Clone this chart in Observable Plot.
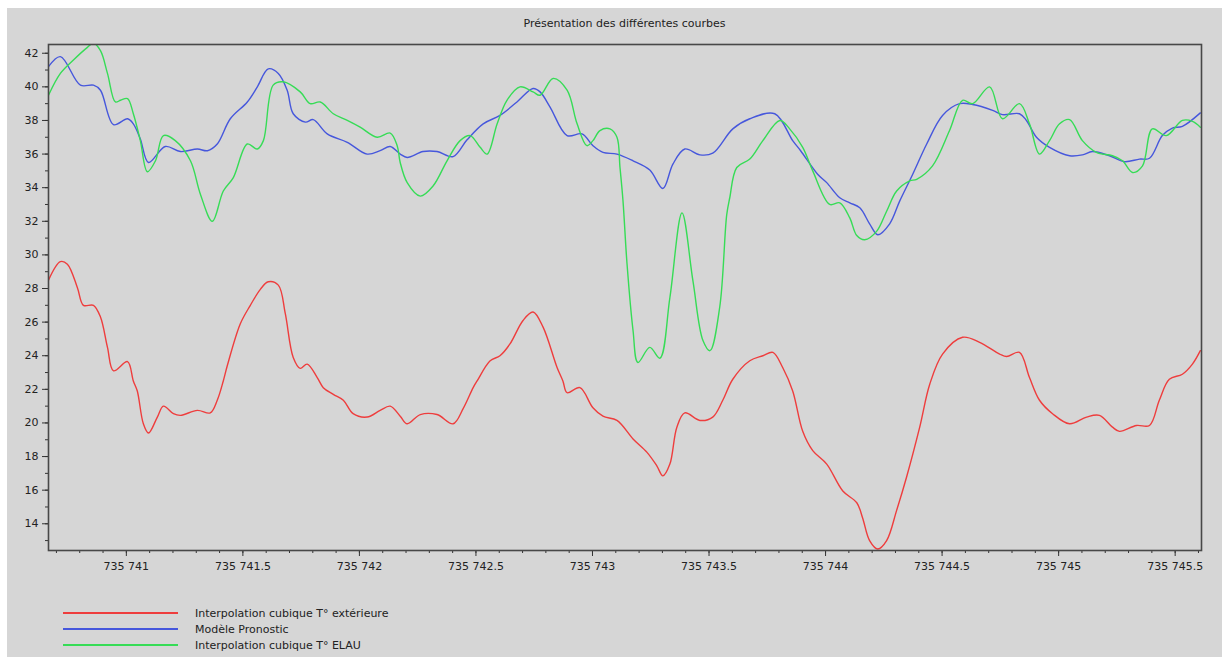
<!DOCTYPE html>
<html>
<head>
<meta charset="utf-8">
<script src="https://cdn.jsdelivr.net/npm/d3@7"></script>
<script src="https://cdn.jsdelivr.net/npm/@observablehq/plot@0.6"></script>
<style>
  html, body { margin: 0; padding: 0; background: #ffffff; }
  #panel { position: absolute; left: 7px; top: 8px; width: 1215px; height: 649px; background: #d6d6d6; overflow: hidden; font-family: "DejaVu Sans", sans-serif; }
  #title { position: absolute; left: 41px; width: 1153px; top: 9px; text-align: center; font-size: 11px; color: #222; }
  #chart { position: absolute; left: 0; top: 30px; }
  #legend { position: absolute; left: 56px; top: 598px; font-size: 11px; color: #222; }
  .row { position: relative; height: 16px; }
  .row .sw { position: absolute; left: 0; top: 6px; width: 115px; height: 2px; }
  .row .lb { position: absolute; left: 132px; top: 0px; line-height: 15px; white-space: nowrap; }
</style>
</head>
<body>
<div id="panel">
  <div id="title"></div>
  <div id="chart"></div>
  <div id="legend"></div>
</div>
<script>
// ---- data (x = date serial, y = temperature) ----
const title = "Présentation des différentes courbes";
const seriesNames = ["Interpolation cubique T° extérieure", "Modèle Pronostic", "Interpolation cubique T° ELAU"];
const seriesColors = ["#ee3d3d", "#4657dc", "#36dc56"];

const redX = [735740.666,735740.717,735740.747,735740.790,735740.816,735740.859,735740.889,735740.919,735740.945,735741.005,735741.030,735741.047,735741.073,735741.095,735741.133,735741.159,735741.202,735741.232,735741.305,735741.360,735741.390,735741.416,735741.433,735741.489,735741.532,735741.575,735741.609,735741.652,735741.682,735741.716,735741.746,735741.776,735741.819,735741.845,735741.888,735741.931,735741.973,735742.033,735742.089,735742.132,735742.175,735742.205,735742.261,735742.333,735742.402,735742.445,735742.488,735742.505,735742.561,735742.603,735742.646,735742.702,735742.745,735742.788,735742.848,735742.873,735742.891,735742.946,735743.002,735743.045,735743.105,735743.174,735743.234,735743.276,735743.302,735743.332,735743.362,735743.396,735743.461,735743.516,735743.559,735743.602,735743.675,735743.731,735743.774,735743.816,735743.859,735743.902,735743.945,735744.005,735744.074,735744.134,735744.159,735744.189,735744.224,735744.262,735744.305,735744.348,735744.404,735744.447,735744.502,735744.588,735744.661,735744.747,735744.777,735744.832,735744.875,735744.918,735744.974,735745.047,735745.120,735745.175,735745.231,735745.261,735745.334,735745.390,735745.432,735745.475,735745.531,735745.574,735745.608];
const redT = [28.5,29.6,29.45,28.05,27.0,27.0,26.3,24.5,23.1,23.65,22.5,21.9,19.95,19.4,20.35,21.0,20.55,20.45,20.75,20.6,21.35,22.5,23.4,25.9,27.0,27.95,28.4,28.2,26.5,23.9,23.25,23.5,22.7,22.1,21.7,21.35,20.55,20.35,20.75,21.0,20.4,19.95,20.5,20.5,19.95,20.85,22.1,22.5,23.7,24.0,24.7,26.1,26.6,25.7,23.3,22.5,21.8,22.1,20.9,20.4,20.15,19.05,18.25,17.45,16.85,17.55,19.75,20.6,20.15,20.35,21.35,22.6,23.7,24.0,24.2,23.3,21.9,19.5,18.35,17.55,15.95,15.25,14.35,13.0,12.5,13.0,14.8,16.8,19.75,22.3,24.1,25.1,24.8,24.1,23.95,24.2,22.7,21.35,20.55,19.95,20.35,20.45,19.75,19.5,19.85,19.85,21.35,22.6,22.9,23.5,24.3];

const blueX = [735740.666,735740.717,735740.803,735740.859,735740.889,735740.945,735741.005,735741.030,735741.060,735741.095,735741.167,735741.232,735741.305,735741.348,735741.390,735741.446,735741.519,735741.562,735741.609,735741.652,735741.690,735741.716,735741.768,735741.802,735741.862,735741.948,735742.033,735742.089,735742.132,735742.175,735742.205,735742.273,735742.333,735742.402,735742.462,735742.531,735742.603,735742.676,735742.745,735742.775,735742.818,735742.891,735742.955,735743.002,735743.045,735743.105,735743.174,735743.246,735743.302,735743.345,735743.396,735743.461,735743.516,735743.602,735743.675,735743.782,735743.859,735743.893,735743.966,735744.005,735744.061,735744.104,735744.147,735744.189,735744.224,735744.275,735744.318,735744.374,735744.434,735744.502,735744.575,735744.631,735744.717,735744.759,735744.832,735744.862,735744.905,735744.961,735745.047,735745.102,735745.145,735745.218,735745.282,735745.347,735745.390,735745.445,735745.488,735745.531,735745.608];
const blueT = [41.2,41.8,40.1,40.1,39.8,37.75,38.1,37.8,36.9,35.5,36.45,36.15,36.3,36.2,36.6,38.1,39.1,40.0,41.07,40.8,39.8,38.4,37.9,38.05,37.2,36.7,36.0,36.2,36.45,36.0,35.8,36.15,36.15,35.85,36.85,37.8,38.3,39.1,39.9,39.7,38.8,37.1,37.2,36.5,36.1,36.0,35.6,35.05,33.95,35.4,36.3,35.95,36.05,37.5,38.1,38.4,36.8,36.2,34.8,34.3,33.4,33.1,32.8,31.85,31.2,31.85,33.2,34.8,36.6,38.3,39.0,38.95,38.6,38.35,38.4,38.0,37.0,36.4,35.9,35.95,36.15,35.9,35.55,35.7,35.75,37.1,37.55,37.65,38.45];

const greenX = [735740.666,735740.717,735740.773,735740.833,735740.859,735740.889,735740.919,735740.953,735740.975,735741.005,735741.030,735741.060,735741.090,735741.125,735741.159,735741.210,735741.275,735741.318,735741.369,735741.416,735741.459,735741.519,735741.562,735741.588,735741.630,735741.673,735741.746,735741.789,735741.832,735741.888,735741.948,735742.003,735742.076,735742.132,735742.162,735742.175,735742.205,735742.261,735742.316,735742.376,735742.432,735742.475,735742.518,735742.548,735742.591,735742.633,735742.689,735742.745,735742.775,735742.831,735742.891,735742.934,735742.976,735743.002,735743.032,735743.075,735743.105,735743.118,735743.131,735743.148,735743.174,735743.195,735743.246,735743.289,735743.332,735743.384,735743.431,735743.474,735743.504,735743.546,735743.576,735743.589,735743.619,735743.675,735743.731,735743.804,735743.846,735743.902,735743.945,735744.018,735744.061,735744.104,735744.134,735744.168,735744.219,735744.262,735744.305,735744.361,735744.391,735744.459,735744.532,735744.588,735744.631,735744.704,735744.759,735744.832,735744.875,735744.918,735744.961,735745.004,735745.047,735745.102,735745.162,735745.231,735745.274,735745.317,735745.360,735745.402,735745.462,735745.531,735745.574,735745.608];
const greenT = [39.5,40.8,41.6,42.35,42.6,42.15,40.8,39.1,39.2,39.3,38.4,36.8,34.95,35.6,37.1,36.8,35.6,33.6,32.0,33.8,34.6,36.6,36.3,36.8,40.1,40.3,39.7,39.0,39.1,38.4,38.0,37.6,37.0,37.25,36.5,35.5,34.3,33.5,34.1,35.6,36.8,37.1,36.4,36.0,37.8,39.2,40.0,39.7,39.5,40.5,39.8,37.8,36.5,36.8,37.4,37.5,37.0,35.2,33.2,29.5,25.5,23.6,24.5,23.85,27.45,32.5,28.45,24.9,24.3,26.9,32.4,33.4,35.2,35.7,36.8,38.0,37.5,36.4,35.0,33.0,33.1,32.2,31.15,30.9,31.4,32.6,33.8,34.4,34.5,35.3,37.4,39.2,39.0,40.0,38.1,39.0,37.8,36.0,36.8,37.8,38.05,36.8,36.1,35.9,35.6,34.9,35.3,37.5,37.1,38.0,37.95,37.6];

const xTicks = [735741, 735741.5, 735742, 735742.5, 735743, 735743.5, 735744, 735744.5, 735745, 735745.5];
const yTicks = [14, 16, 18, 20, 22, 24, 26, 28, 30, 32, 34, 36, 38, 40, 42];
const xDomain = [735740.666, 735745.613];
const yDomain = [12.41, 42.52];

// ---- build ----
const toRows = (xs, ys) => xs.map((x, i) => ({x, y: ys[i]}));
const seriesData = [toRows(redX, redT), toRows(blueX, blueT), toRows(greenX, greenT)];

const frLocale = d3.formatLocale({decimal: ".", thousands: " ", grouping: [3], currency: ["", ""]});
const fmtX = frLocale.format(",");

const xMinor = d3.range(7, 57).map(i => +(735740 + i / 10).toFixed(1));
const yMinor = d3.range(13, 43);

document.getElementById("title").textContent = title;

const chart = Plot.plot({
  width: 1215,
  height: 550,
  marginLeft: 41,
  marginRight: 21,
  marginTop: 6,
  marginBottom: 38,
  style: {background: "transparent", fontFamily: "DejaVu Sans, sans-serif", fontSize: "11px", color: "#222", overflow: "visible"},
  x: {domain: xDomain},
  y: {domain: yDomain},
  marks: [
    Plot.axisX(xMinor, {anchor: "bottom", tickSize: 3, tickFormat: () => "", label: null, stroke: "#333"}),
    Plot.axisX(xTicks, {anchor: "bottom", tickSize: 6, tickPadding: 6, tickFormat: fmtX, label: null, stroke: "#333"}),
    Plot.axisY(yMinor, {anchor: "left", tickSize: 3, tickFormat: () => "", label: null, stroke: "#333"}),
    Plot.axisY(yTicks, {anchor: "left", tickSize: 6, tickPadding: 4, label: null, stroke: "#333"}),
    ...seriesData.map((d, i) => Plot.line(d, {x: "x", y: "y", stroke: seriesColors[i], strokeWidth: 1.4, curve: "catmull-rom", clip: true})),
    Plot.frame({stroke: "#484848", strokeWidth: 1.6})
  ]
});
document.getElementById("chart").appendChild(chart);

const legend = document.getElementById("legend");
seriesNames.forEach((name, i) => {
  const row = document.createElement("div");
  row.className = "row";
  const sw = document.createElement("div");
  sw.className = "sw";
  sw.style.background = seriesColors[i];
  const lb = document.createElement("div");
  lb.className = "lb";
  lb.textContent = name;
  row.appendChild(sw);
  row.appendChild(lb);
  legend.appendChild(row);
});
</script>
</body>
</html>
